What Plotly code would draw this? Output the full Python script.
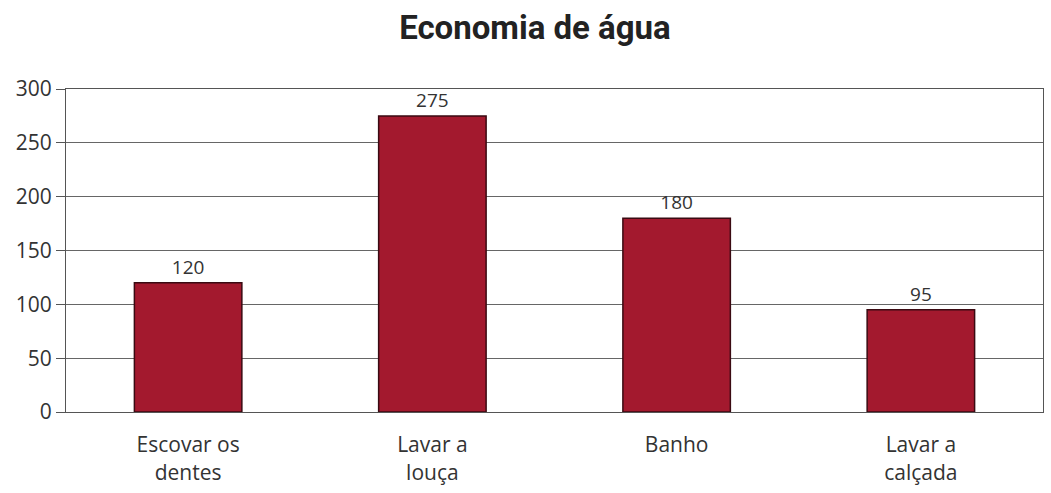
import plotly.graph_objects as go

categories = ["Escovar os<br>dentes", "Lavar a<br>louça", "Banho", "Lavar a<br>calçada"]
values = [120, 275, 180, 95]
y_ticks = [0, 50, 100, 150, 200, 250, 300]

fig = go.Figure(go.Bar(
    x=categories,
    y=values,
    text=[str(v) for v in values],
    textposition="outside",
    textfont=dict(family="Open Sans", size=19, color="#333333"),
    cliponaxis=False,
    marker=dict(color="#a3192e", line=dict(color="#3a0a12", width=1.5)),
))

fig.update_layout(
    width=1051, height=493,
    margin=dict(l=66, r=8, t=89, b=81),
    paper_bgcolor="white", plot_bgcolor="white",
    bargap=0.56,
    showlegend=False,
    title=dict(text="<b>Economia de água</b>", x=0.509, xanchor="center", y=0.945, yanchor="middle",
               font=dict(family="Roboto", size=33, color="#222222")),
    font=dict(family="Open Sans", color="#333333"),
)
fig.update_yaxes(
    range=[0, 300], tickvals=y_ticks, showgrid=True, gridcolor="#666666", gridwidth=1,
    showline=True, linecolor="#555555", linewidth=1, mirror=True,
    ticks="outside", ticklen=9, tickcolor="#555555",
    tickfont=dict(family="Open Sans", size=21, color="#333333"),
    zeroline=False,
)
fig.update_xaxes(
    showline=True, linecolor="#555555", linewidth=1, mirror=True,
    tickfont=dict(family="Open Sans", size=21, color="#333333"),
    ticks="", ticklabelstandoff=14,
)

fig.write_html("out.html")
